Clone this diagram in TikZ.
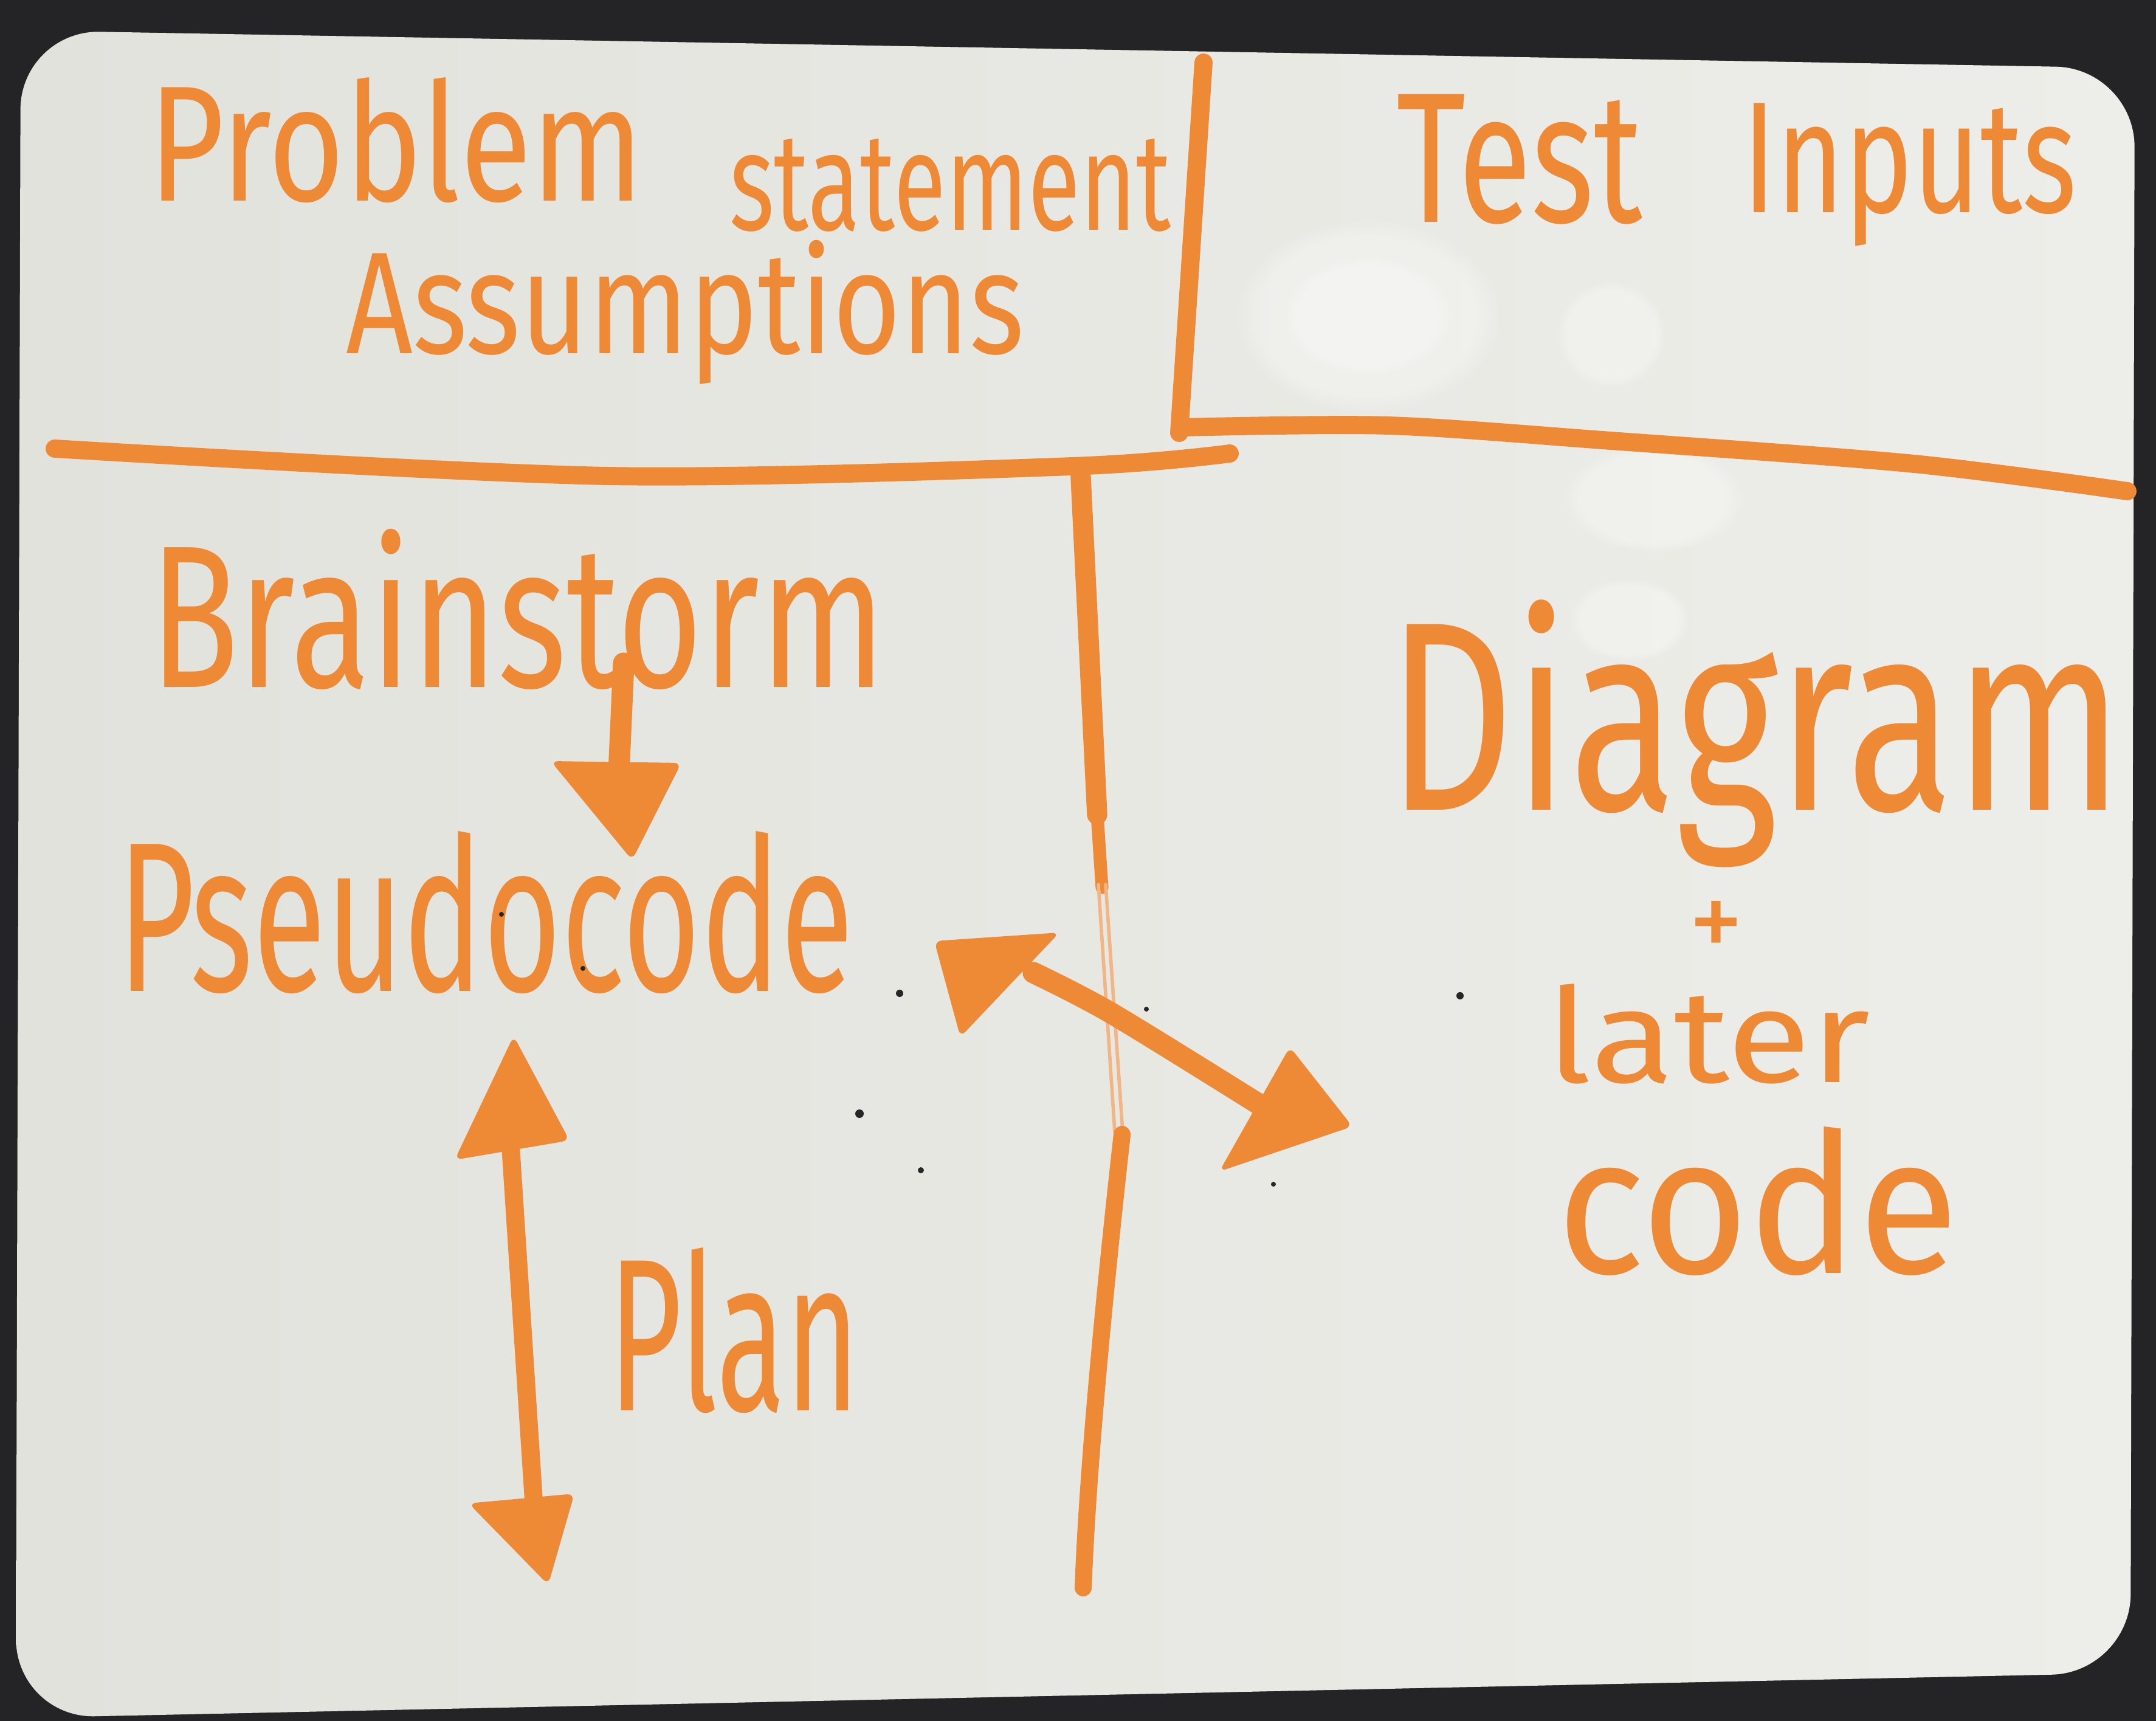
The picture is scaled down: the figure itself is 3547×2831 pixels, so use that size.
\documentclass[tikz,border=0pt]{standalone}
\usepackage{fontspec}
\setmainfont{Fira Sans}
\usepackage{graphicx}
\usetikzlibrary{fadings}
\definecolor{marker}{HTML}{EE8A36}
\definecolor{markerpale}{HTML}{F2B586}
\definecolor{bgdark}{HTML}{242427}
\definecolor{boardL}{HTML}{E2E2DD}
\definecolor{boardR}{HTML}{EDEDE9}
\tikzset{
  pen/.style={draw=marker, line width=8.5pt, line cap=round, line join=round},
  fatpen/.style={pen, line width=10pt},
  hairpen/.style={draw=markerpale, line width=1.6pt, line cap=round},
  headfill/.style={fill=marker, rounded corners=0.12cm},
  word/.style={inner sep=0pt, outer sep=0pt, anchor=north west, text=marker, font=\normalfont},
  speck/.style={fill=black!85},
  glare/.style={fill=white, path fading=circle with fuzzy edge 20 percent, fill opacity=0.3}
}
\begin{document}
\begin{tikzpicture}[x=0.01cm, y=-0.01cm]
\useasboundingbox (0,0) rectangle (3547,2831);
% room behind the board
\fill[bgdark] (0,0) rectangle (3547,2831);

% the whiteboard
\shade[left color=boardL, right color=boardR, rounded corners=1.3cm]
  (34,50) -- (3512,112) -- (3505,2752) -- (26,2826) -- cycle;

% soft reflections of the ceiling lights
\fill[glare] (2250,520) ellipse [x radius=2.2cm, y radius=1.6cm];
\fill[glare] (2250,520) ellipse [x radius=1.4cm, y radius=1.0cm];
\fill[glare] (2650,550) ellipse [x radius=0.9cm, y radius=0.9cm];
\fill[glare] (2720,820) ellipse [x radius=1.5cm, y radius=0.9cm];
\fill[glare] (2680,1020) ellipse [x radius=1.0cm, y radius=0.7cm];

% section dividers
\draw[pen] (1980,103) -- (1940,712);
\draw[pen] plot[smooth] coordinates {(1945,703) (2283,700) (2650,725) (3149,763) (3500,808)};
\draw[pen] plot[smooth] coordinates {(90,738) (1000,783) (1764,767) (2023,746)};
% middle divider: heavy, fading to a double hairline, heavy again
\draw[pen, line width=9.5pt] (1778,785) -- (1805,1340);
\draw[pen, line width=6pt] (1805,1340) -- (1813,1460);
\draw[hairpen] (1807,1455) -- (1834,1862);
\draw[hairpen] (1819,1455) -- (1847,1862);
\draw[pen, line width=8pt] (1846,1866) .. controls (1820,2100) and (1790,2400) .. (1782,2612);

% labels
\node[word] (prob) at (244,127) {\resizebox{8.14cm}{2.03cm}{Problem}};
\node[word] (stmt) at (1200,228) {\resizebox{7.26cm}{1.5cm}{statement}};
\node[word] (assum) at (569,395) {\resizebox*{11.15cm}{2.37cm}{Assumptions}};
\node[word] (test) at (2297,155) {\resizebox{4.05cm}{2.1cm}{Test}};
\node[word] (inputs) at (2866,170) {\resizebox*{5.5cm}{2.35cm}{Inputs}};
\node[word] (brain) at (246,870) {\resizebox{12.1cm}{2.6cm}{Brainstorm}};
\node[word] (pseudo) at (193,1367) {\resizebox{12.1cm}{2.63cm}{Pseudocode}};
\node[word] (plan) at (1001,2052) {\resizebox{4.13cm}{2.68cm}{Plan}};
\node[word] (diag) at (2282,987) {\resizebox*{12.1cm}{4.4cm}{Diagram}};
\node[word] (plus) at (2778,1482) {\resizebox*{0.9cm}{0.95cm}{+}};
\node[word] (later) at (2544,1618) {\resizebox{5.32cm}{1.62cm}{later}};
\node[word] (code) at (2561,1853) {\resizebox{6.61cm}{2.41cm}{code}};

% arrow ends
\coordinate (bsTail) at (1026,1091);
\coordinate (bsTip) at (1018,1272);
\coordinate (planTop) at (840,1885);
\coordinate (planBot) at (878,2468);
\coordinate (dgA) at (1700,1600);
\coordinate (dgMid) at (1829,1667);
\coordinate (dgB) at (2080,1822);

% Brainstorm -> Pseudocode
\draw[fatpen] (bsTail) -- (bsTip);
\fill[headfill] (906,1252) -- (1121,1255) -- (1040,1415) -- cycle;

% Plan: double-headed vertical arrow
\draw[pen] (planTop) -- (planBot);
\fill[headfill] (845,1704) -- (937,1876) -- (748,1908) -- cycle;
\fill[headfill] (771,2473) -- (945,2457) -- (902,2607) -- cycle;

% Pseudocode <-> Diagram
\draw[fatpen] plot[smooth] coordinates {(dgA) (dgMid) (dgB)};
\fill[headfill] (1537,1548) -- (1743,1534) -- (1580,1706) -- cycle;
\fill[headfill] (2122,1722) -- (2225,1853) -- (2006,1927) -- cycle;

% specks of dirt on the board
\fill[speck] (1414,1832) circle [radius=0.07cm];
\fill[speck] (1480,1634) circle [radius=0.06cm];
\fill[speck] (1515,1925) circle [radius=0.05cm];
\fill[speck] (1886,1660) circle [radius=0.04cm];
\fill[speck] (2095,1948) circle [radius=0.04cm];
\fill[speck] (2402,1638) circle [radius=0.06cm];
\fill[speck] (825,1504) circle [radius=0.04cm];
\fill[speck] (959,1593) circle [radius=0.04cm];
\end{tikzpicture}
\end{document}
